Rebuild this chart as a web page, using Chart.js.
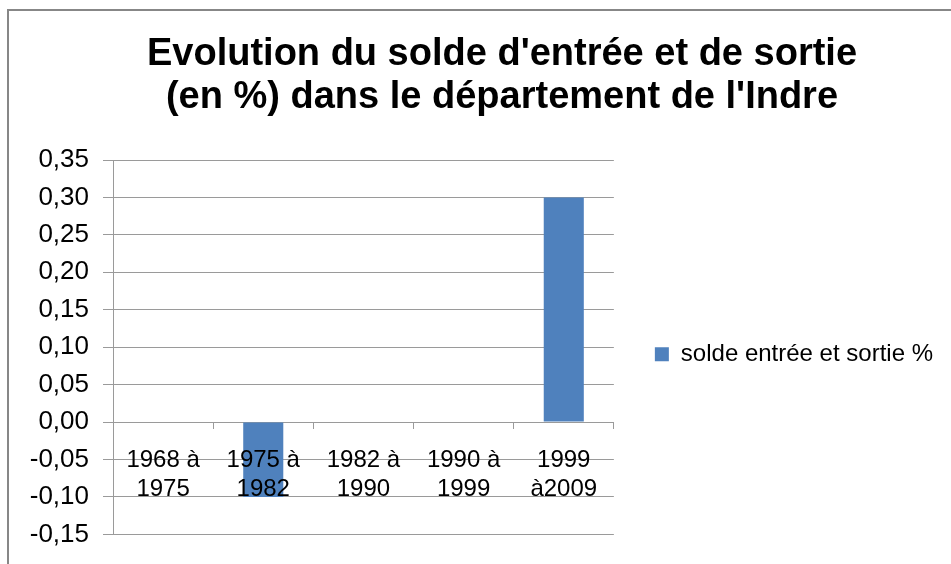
<!DOCTYPE html>
<html>
<head>
<meta charset="utf-8">
<script src="https://cdn.jsdelivr.net/npm/chart.js@4/dist/chart.umd.min.js"></script>
<style>
html,body{margin:0;padding:0;background:#fff;}
#wrap{position:absolute;left:0;top:0;width:951px;height:564px;}
</style>
</head>
<body>
<div id="wrap"><canvas id="c" width="951" height="564"></canvas></div>
<script>
const titleLines = ["Evolution du solde d'entrée et de sortie", "(en %) dans le département de l'Indre"];
const categories = [["1968 à", "1975"], ["1975 à", "1982"], ["1982 à", "1990"], ["1990 à", "1999"], ["1999", "à2009"]];
const seriesName = "solde entrée et sortie %";
const values = [0, -0.10, 0, 0, 0.30];
const yMin = -0.15, yMax = 0.35, yStep = 0.05;

const FONT = "'Liberation Sans', Arial, sans-serif";
const GRID = '#9a9a9a';

// layout helpers (positions only)
const PLOT_RIGHT = 614;
const LEG_PAD = 41;
const LEG_FONT = 24;
const LEG_BOX = 14;
const mctx = document.createElement('canvas').getContext('2d');
mctx.font = 'normal ' + LEG_FONT + 'px ' + FONT;
const legTextW = mctx.measureText(seriesName).width;
const legendW = LEG_PAD + LEG_BOX + LEG_FONT / 2 + legTextW + 10;
const padRight = Math.round(951 - PLOT_RIGHT - legendW);
const TITLE_CENTER = 502;

const framePlugin = {
  id: 'frame',
  beforeDraw(chart) {
    const ctx = chart.ctx;
    ctx.save();
    ctx.fillStyle = '#fff';
    ctx.fillRect(0, 0, chart.width, chart.height);
    ctx.strokeStyle = '#878787';
    ctx.lineWidth = 2;
    ctx.strokeRect(8, 10, chart.width + 20, chart.height + 20);
    ctx.restore();
  },
  afterLayout(chart) {
    const t = chart.titleBlock;
    if (t) {
      const d = TITLE_CENTER - (t.left + t.right) / 2;
      t.left += d;
      t.right += d;
    }
  }
};

new Chart(document.getElementById('c'), {
  type: 'bar',
  data: {
    labels: categories,
    datasets: [{
      label: seriesName,
      data: values,
      backgroundColor: '#4f81bd',
      borderWidth: 0,
      categoryPercentage: 0.4,
      barPercentage: 1.0
    }]
  },
  options: {
    responsive: false,
    animation: false,
    devicePixelRatio: 1,
    layout: { padding: { left: 20, right: padRight, top: 0, bottom: 21 } },
    plugins: {
      title: {
        display: true,
        text: titleLines,
        color: '#000',
        font: { family: FONT, size: 38, weight: 'bold', lineHeight: '43px' },
        padding: { top: 33, bottom: 41 }
      },
      legend: {
        display: true,
        position: 'right',
        fullSize: false,
        maxWidth: 420,
        title: {
          display: true,
          text: ' ',
          padding: 0,
          font: { family: FONT, size: 12, lineHeight: '14px' }
        },
        labels: {
          color: '#000',
          font: { family: FONT, size: LEG_FONT },
          boxWidth: LEG_BOX,
          boxHeight: LEG_BOX,
          padding: LEG_PAD
        }
      },
      tooltip: { enabled: false }
    },
    scales: {
      x: {
        position: { y: 0 },
        grid: {
          offset: true,
          drawOnChartArea: false,
          drawTicks: true,
          tickLength: 6,
          color: GRID,
          lineWidth: 1
        },
        border: { display: true, color: GRID, width: 1 },
        ticks: {
          z: 1,
          color: '#000',
          font: { family: FONT, size: 24, lineHeight: 1.2 },
          padding: 18,
          maxRotation: 0,
          autoSkip: false
        }
      },
      y: {
        min: yMin,
        max: yMax,
        afterFit(scale) { scale.width = 93; },
        grid: {
          color: GRID,
          lineWidth: 1,
          tickLength: 10
        },
        border: { display: true, color: GRID, width: 1 },
        ticks: {
          stepSize: yStep,
          color: '#000',
          font: { family: FONT, size: 26 },
          padding: 14,
          callback(v) {
            const n = Math.abs(v) < 1e-9 ? 0 : v;
            return n.toFixed(2).replace('.', ',');
          }
        }
      }
    }
  },
  plugins: [framePlugin]
});
</script>
</body>
</html>
